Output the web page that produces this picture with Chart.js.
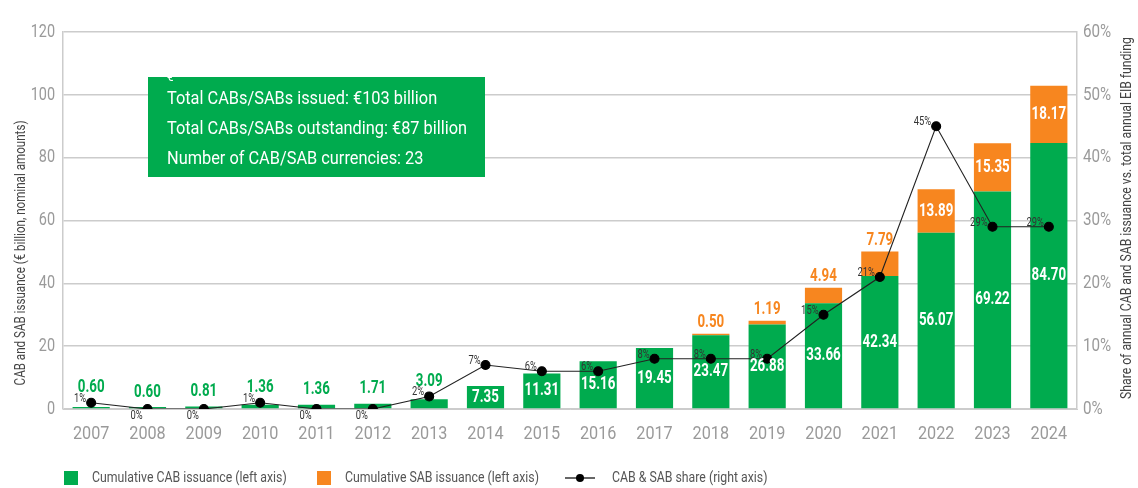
<!DOCTYPE html>
<html>
<head>
<meta charset="utf-8">
<script src="https://cdn.jsdelivr.net/npm/chart.js@4.4.1/dist/chart.umd.min.js"></script>
<style>
html,body{margin:0;padding:0;background:#fff;}
#wrap{position:relative;width:1138px;height:488px;}
</style>
</head>
<body>
<div id="wrap"><canvas id="c" width="1138" height="488"></canvas></div>
<script>
// ---- data ----
const years = ['2007','2008','2009','2010','2011','2012','2013','2014','2015','2016','2017','2018','2019','2020','2021','2022','2023','2024'];
const cabCumulative = [0.60,0.60,0.81,1.36,1.36,1.71,3.09,7.35,11.31,15.16,19.45,23.47,26.88,33.66,42.34,56.07,69.22,84.70];
const sabCumulative = [null,null,null,null,null,null,null,null,null,null,null,0.50,1.19,4.94,7.79,13.89,15.35,18.17];
const sharePct = [1,0,0,1,0,0,2,7,6,6,8,8,8,15,21,45,29,29];
const leftTicks = [0,20,40,60,80,100,120];
const rightTicks = [0,10,20,30,40,50,60];
const summaryLines = ['Total CABs/SABs issued: €103 billion','Total CABs/SABs outstanding: €87 billion','Number of CAB/SAB currencies: 23'];
const seriesNames = ['Cumulative CAB issuance (left axis)','Cumulative SAB issuance (left axis)','CAB & SAB share (right axis)'];
const leftTitle = 'CAB and SAB issuance (€ billion, nominal amounts)';
const rightTitle = 'Share of annual CAB and SAB issuance vs. total annual EIB funding';

// ---- style ----
const GREEN = '#00AB4E';
const ORANGE = '#F7861F';
const FONT = "Roboto, 'Liberation Sans', sans-serif";
const GRID = '#cccccc';
const TICK = '#9a9a9a';

// condensed text helper (horizontal squeeze around the anchor point)
function txt(ctx, s, x, y, o) {
  ctx.save();
  ctx.font = (o.weight || 'normal') + ' ' + o.size + 'px ' + FONT;
  ctx.fillStyle = o.color;
  ctx.textAlign = o.align || 'center';
  ctx.textBaseline = 'middle';
  ctx.translate(x, y);
  if (o.rot) ctx.rotate(o.rot);
  ctx.scale(o.sx || 1, 1);
  ctx.fillText(s, 0, 0);
  ctx.restore();
}

const overlay = {
  id: 'overlay',
  afterDatasetsDraw(chart) {
    const ctx = chart.ctx;
    const mCab = chart.getDatasetMeta(0), mSab = chart.getDatasetMeta(1), mLine = chart.getDatasetMeta(2);
    cabCumulative.forEach((v, i) => {
      const b = mCab.data[i];
      const p = mLine.data[i];
      const s = v.toFixed(2);
      if (b.base - b.y < 20) {
        txt(ctx, s, b.x, Math.min(b.y, p.y) - 15, { size: 18, weight: 'bold', color: GREEN, sx: 0.74 });
      } else {
        txt(ctx, s, b.x, (b.y + b.base) / 2, { size: 18, weight: 'bold', color: '#ffffff', sx: 0.74 });
      }
    });
    sabCumulative.forEach((v, i) => {
      if (v == null) return;
      const b = mSab.data[i];
      const s = v.toFixed(2);
      if (b.base - b.y < 30) {
        txt(ctx, s, b.x, b.y - 11, { size: 18, weight: 'bold', color: ORANGE, sx: 0.74 });
      } else {
        txt(ctx, s, b.x, (b.y + b.base) / 2, { size: 18, weight: 'bold', color: '#ffffff', sx: 0.74 });
      }
    });
    sharePct.forEach((v, i) => {
      const p = mLine.data[i];
      txt(ctx, v + '%', p.x - 5, v === 0 ? p.y + 7 : p.y - 4, { size: 12, color: '#333333', align: 'right', sx: 0.78 });
    });
  },
  afterDraw(chart) {
    const ctx = chart.ctx;
    const ca = chart.chartArea;
    const xs = chart.scales.x, ys = chart.scales.y, ys2 = chart.scales.y2;
    // tick labels
    years.forEach((y, i) => txt(ctx, y, xs.getPixelForTick(i), ca.bottom + 25, { size: 18, color: TICK, sx: 0.9 }));
    leftTicks.forEach(v => txt(ctx, String(v), ca.left - 8, ys.getPixelForValue(v), { size: 19, color: TICK, align: 'right', sx: 0.76 }));
    rightTicks.forEach(v => txt(ctx, v + '%', ca.right + 6, ys2.getPixelForValue(v), { size: 19, color: TICK, align: 'left', sx: 0.8 }));
    // summary box
    const bx = ca.left + 85, by = ca.top + 45, bw = 337, bh = 100;
    ctx.save();
    ctx.fillStyle = GREEN;
    ctx.fillRect(bx, by, bw, bh);
    ctx.beginPath(); ctx.rect(bx, by, bw, bh); ctx.clip();
    txt(ctx, '€', bx + 19, by + 1, { size: 13, color: '#ffffff', align: 'left', sx: 0.9 });
    summaryLines.forEach((t, k) => txt(ctx, t, bx + 19, by + 22 + k * 30, { size: 19, color: '#ffffff', align: 'left', sx: 0.86 }));
    ctx.restore();
    // axis titles
    txt(ctx, leftTitle, 21, 253, { size: 14, color: '#444444', rot: -Math.PI / 2, sx: 0.83 });
    txt(ctx, rightTitle, 1127, 218, { size: 14, color: '#444444', rot: -Math.PI / 2, sx: 0.87 });
    // legend
    const ly = 478;
    ctx.save();
    ctx.fillStyle = GREEN; ctx.fillRect(64, ly - 7, 14, 14);
    ctx.fillStyle = ORANGE; ctx.fillRect(317, ly - 7, 14, 14);
    ctx.strokeStyle = '#000000'; ctx.lineWidth = 1.2;
    ctx.beginPath(); ctx.moveTo(565, ly); ctx.lineTo(595, ly); ctx.stroke();
    ctx.fillStyle = '#000000'; ctx.beginPath(); ctx.arc(580, ly, 4, 0, Math.PI * 2); ctx.fill();
    ctx.restore();
    txt(ctx, seriesNames[0], 92, ly, { size: 15, color: '#555555', align: 'left', sx: 0.82 });
    txt(ctx, seriesNames[1], 345, ly, { size: 15, color: '#555555', align: 'left', sx: 0.82 });
    txt(ctx, seriesNames[2], 612, ly, { size: 15, color: '#555555', align: 'left', sx: 0.82 });
  }
};

new Chart(document.getElementById('c'), {
  data: {
    labels: years,
    datasets: [
      { type: 'bar', label: seriesNames[0], data: cabCumulative, backgroundColor: GREEN, yAxisID: 'y', stack: 's', order: 1,
        categoryPercentage: 1.0, barPercentage: 0.66 },
      { type: 'bar', label: seriesNames[1], data: sabCumulative, backgroundColor: ORANGE, yAxisID: 'y', stack: 's', order: 1,
        categoryPercentage: 1.0, barPercentage: 0.66 },
      { type: 'line', label: seriesNames[2], data: sharePct, yAxisID: 'y2', order: 0,
        borderColor: '#222222', borderWidth: 1.1, pointRadius: 4.5, pointBackgroundColor: '#000000', pointBorderColor: '#000000',
        tension: 0, fill: false }
    ]
  },
  options: {
    responsive: false,
    animation: false,
    devicePixelRatio: 1,
    layout: { padding: { top: 32, left: 0, right: 0, bottom: 0 } },
    plugins: { legend: { display: false }, tooltip: { enabled: false } },
    scales: {
      x: {
        stacked: true,
        grid: { display: false, drawTicks: false },
        border: { display: true, color: GRID, width: 1 },
        ticks: { display: false },
        afterFit(s) { s.height = 79; }
      },
      y: {
        stacked: true,
        position: 'left',
        min: 0, max: 120,
        afterBuildTicks(s) { s.ticks = leftTicks.map(v => ({ value: v })); },
        grid: { color: GRID, lineWidth: 1.5, drawTicks: false },
        border: { display: true, color: GRID, width: 1.5 },
        ticks: { display: false },
        afterFit(s) { s.width = 63; }
      },
      y2: {
        position: 'right',
        min: 0, max: 60,
        afterBuildTicks(s) { s.ticks = rightTicks.map(v => ({ value: v })); },
        grid: { drawOnChartArea: false, drawTicks: false },
        border: { display: true, color: GRID, width: 1.5 },
        ticks: { display: false },
        afterFit(s) { s.width = 61; }
      }
    }
  },
  plugins: [overlay]
});
</script>
</body>
</html>
